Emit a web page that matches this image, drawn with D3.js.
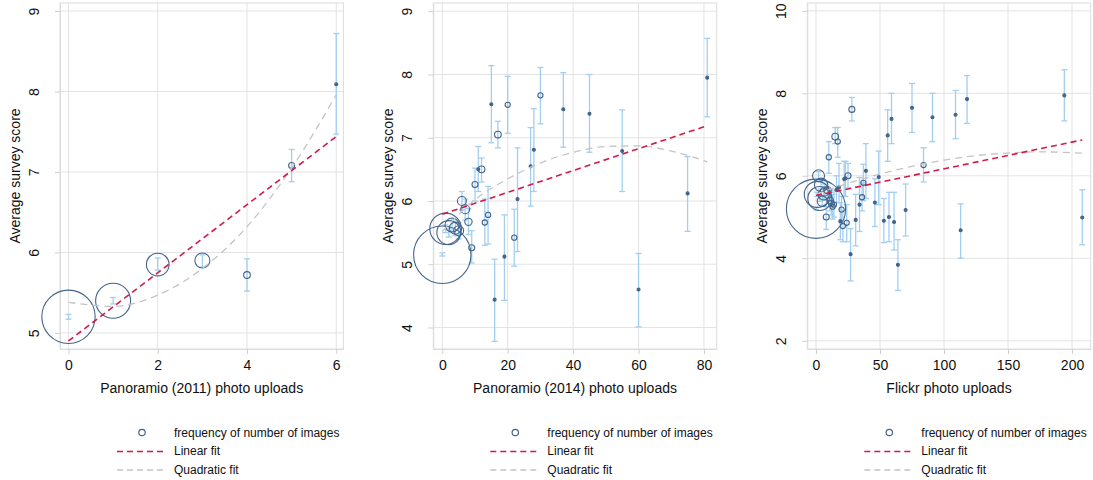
<!DOCTYPE html>
<html>
<head>
<meta charset="utf-8">
<script src="https://cdn.jsdelivr.net/npm/d3@7"></script>
<style>
  body { margin: 0; background: #fff; }
  text { font-family: "Liberation Sans", Arial, Helvetica, sans-serif; fill: #111; }
</style>
</head>
<body>
<script>
// rows: [uploads, mean score, ci low, ci high, frequency]
var panoramio2011 = [
  [0, 5.20, 5.17, 5.23, 316],
  [1, 5.40, 5.36, 5.44, 136],
  [2, 5.85, 5.78, 5.93, 57],
  [3, 5.90, 5.82, 5.97, 25],
  [4, 5.72, 5.52, 5.92, 5],
  [5, 7.08, 6.88, 7.28, 4],
  [6, 8.09, 7.47, 8.72, 1]
];
var panoramio2014 = [
  [0, 5.15, 5.13, 5.18, 366],
  [1, 5.56, 5.50, 5.62, 110],
  [2, 5.50, 5.43, 5.57, 64],
  [3, 5.62, 5.52, 5.72, 22],
  [4, 5.57, 5.45, 5.68, 16],
  [5, 5.53, 5.40, 5.66, 11],
  [6, 6.00, 5.86, 6.15, 9],
  [7, 5.87, 5.70, 6.03, 9],
  [8, 5.67, 5.47, 5.88, 6],
  [9, 5.26, 5.02, 5.53, 4],
  [10, 6.26, 6.00, 6.52, 4],
  [11, 6.50, 6.15, 6.86, 1],
  [12, 6.50, 6.30, 6.68, 5],
  [13, 5.66, 5.30, 6.03, 3],
  [14, 5.78, 5.32, 6.23, 3],
  [15, 7.53, 6.92, 8.14, 1],
  [16, 4.44, 3.78, 5.08, 1],
  [17, 7.05, 6.84, 7.26, 5],
  [19, 5.12, 4.43, 5.78, 1],
  [20, 7.52, 7.07, 7.97, 3],
  [22, 5.42, 4.97, 5.87, 3],
  [23, 6.03, 5.20, 6.84, 1],
  [27, 6.55, 5.92, 7.16, 1],
  [28, 6.81, 6.15, 7.46, 1],
  [30, 7.67, 7.22, 8.11, 3],
  [37, 7.45, 6.85, 8.03, 1],
  [45, 7.38, 6.77, 8.00, 1],
  [55, 6.79, 6.15, 7.44, 1],
  [60, 4.60, 4.01, 5.17, 1],
  [75, 6.12, 5.52, 6.70, 1],
  [81, 7.95, 7.33, 8.57, 1]
];
var flickr = [
  [0, 5.20, 5.17, 5.23, 390],
  [1, 5.55, 5.50, 5.60, 75],
  [2, 6.00, 5.90, 6.10, 16],
  [3, 5.45, 5.38, 5.52, 64],
  [4, 5.78, 5.68, 5.88, 20],
  [5, 5.38, 5.28, 5.50, 12],
  [6, 5.55, 5.40, 5.70, 14],
  [7, 5.62, 5.45, 5.80, 9],
  [8, 5.00, 4.70, 5.25, 4],
  [9, 5.65, 5.45, 5.85, 6],
  [10, 6.45, 6.06, 6.83, 3],
  [11, 5.40, 5.15, 5.65, 5],
  [12, 5.33, 5.05, 5.60, 4],
  [13, 5.25, 4.95, 5.55, 3],
  [14, 5.30, 5.00, 5.65, 3],
  [15, 6.95, 6.78, 7.17, 5],
  [16, 5.66, 5.35, 6.00, 1],
  [17, 6.83, 6.45, 7.17, 3],
  [18, 5.72, 5.35, 6.30, 1],
  [19, 4.90, 4.45, 5.35, 1],
  [20, 5.18, 4.85, 5.50, 3],
  [21, 4.78, 4.40, 5.15, 3],
  [22, 5.92, 5.50, 6.35, 1],
  [23, 5.94, 5.50, 6.35, 1],
  [24, 4.86, 4.40, 5.30, 3],
  [25, 6.00, 5.70, 6.30, 4],
  [27, 4.10, 3.45, 4.72, 1],
  [28, 7.61, 7.33, 7.90, 4],
  [31, 4.93, 4.30, 5.55, 1],
  [34, 5.30, 4.65, 5.96, 1],
  [36, 5.48, 5.15, 5.83, 3],
  [37, 5.83, 5.40, 6.28, 3],
  [39, 6.12, 5.45, 6.78, 1],
  [46, 5.35, 4.77, 5.93, 1],
  [49, 5.97, 5.30, 6.60, 1],
  [53, 4.91, 4.38, 5.45, 1],
  [56, 6.98, 6.35, 7.60, 1],
  [57, 5.00, 4.40, 5.60, 1],
  [59, 7.38, 6.78, 8.00, 1],
  [61, 4.88, 4.20, 5.60, 1],
  [64, 3.84, 3.22, 4.45, 1],
  [70, 5.17, 4.54, 5.80, 1],
  [75, 7.65, 7.05, 8.24, 1],
  [84, 6.26, 5.85, 6.68, 3],
  [91, 7.42, 6.83, 8.00, 1],
  [109, 7.48, 6.90, 8.07, 1],
  [113, 4.68, 4.00, 5.32, 1],
  [118, 7.86, 7.27, 8.43, 1],
  [194, 7.95, 7.33, 8.57, 1],
  [208, 4.99, 4.33, 5.66, 1]
];

// fitted lines
var linear2011 = [[0, 4.90], [6, 7.44]];
var quad2011 = [[0, 5.38], [1, 5.33], [2, 5.47], [3, 5.80], [4, 6.32], [5, 7.05], [6, 7.96]];
var linear2014 = [[0, 5.79], [81, 7.19]];
var quad2014 = [[0, 5.52], [10, 6.02], [20, 6.35], [30, 6.60], [40, 6.77], [50, 6.86], [60, 6.87], [70, 6.79], [81, 6.62]];
var linearFlickr = [[0, 5.52], [208, 6.87]];
var quadFlickr = [[0, 5.55], [25, 5.82], [50, 6.04], [75, 6.23], [100, 6.38], [125, 6.49], [150, 6.55], [175, 6.58], [208, 6.55]];

var xTicks2011 = [0, 2, 4, 6];
var xTicks2014 = [0, 20, 40, 60, 80];
var xTicksFlickr = [0, 50, 100, 150, 200];
var yTicks2011 = [5, 6, 7, 8, 9];
var yTicks2014 = [4, 5, 6, 7, 8, 9];
var yTicksFlickr = [2, 4, 6, 8, 10];

var legendLabels = ["frequency of number of images", "Linear fit", "Quadratic fit"];

var panels = [
  {left: 60, rows: panoramio2011, lin: linear2011, quad: quad2011, xd: [-0.19, 6.16], yd: [4.8, 9.1],
   xt: xTicks2011, yt: yTicks2011, title: "Panoramio (2011) photo uploads"},
  {left: 433.3, rows: panoramio2014, lin: linear2014, quad: quad2014, xd: [-2.75, 83.9], yd: [3.66, 9.13],
   xt: xTicks2014, yt: yTicks2014, title: "Panoramio (2014) photo uploads"},
  {left: 807.3, rows: flickr, lin: linearFlickr, quad: quadFlickr, xd: [-6.8, 214.6], yd: [1.8, 10.19],
   xt: xTicksFlickr, yt: yTicksFlickr, title: "Flickr photo uploads"}
];

var width = 1093, height = 480;
var plotTop = 3, plotBottom = 349, pw = 283.4;
var circleColor = "#43648a", barColor = "#a2cff0", linColor = "#d11a4a", quadColor = "#c4c4c4", gridColor = "#e3e3e3";

var svg = d3.select("body").append("svg")
    .attr("width", width)
    .attr("height", height);

panels.forEach(function(p) {
  var x = d3.scaleLinear().domain(p.xd).range([p.left, p.left + pw]);
  var y = d3.scaleLinear().domain(p.yd).range([plotBottom, plotTop]);
  var r = d3.scaleSqrt().domain([0, 400]).range([0, 30]);
  var g = svg.append("g");

  // grid
  g.selectAll(".gx").data(p.xt).enter().append("line")
      .attr("x1", function(d) { return x(d); }).attr("x2", function(d) { return x(d); })
      .attr("y1", plotTop).attr("y2", plotBottom)
      .attr("stroke", gridColor).attr("stroke-width", 1);
  g.selectAll(".gy").data(p.yt).enter().append("line")
      .attr("x1", p.left).attr("x2", p.left + pw)
      .attr("y1", function(d) { return y(d); }).attr("y2", function(d) { return y(d); })
      .attr("stroke", gridColor).attr("stroke-width", 1);
  g.append("rect")
      .attr("x", p.left).attr("y", plotTop).attr("width", pw).attr("height", plotBottom - plotTop)
      .attr("fill", "none").attr("stroke", "#dcdcdc");

  // axes
  var xa = g.append("g").attr("transform", "translate(0," + plotBottom + ")")
      .call(d3.axisBottom(x).tickValues(p.xt).tickFormat(d3.format("d"))
        .tickSize(5).tickSizeOuter(0).tickPadding(6));
  var ya = g.append("g").attr("transform", "translate(" + p.left + ",0)")
      .call(d3.axisLeft(y).tickValues(p.yt).tickFormat(d3.format("d"))
        .tickSize(5).tickSizeOuter(0));
  [xa, ya].forEach(function(a) {
    a.select(".domain").attr("stroke", "#dcdcdc");
    a.selectAll(".tick line").attr("stroke", "#cfcfcf");
    a.selectAll("text").style("font-size", "14px").attr("fill", "#111")
      .style("font-family", "Liberation Sans, Arial, sans-serif");
  });
  ya.selectAll(".tick text")
      .attr("x", null).attr("dy", null)
      .attr("text-anchor", "middle")
      .attr("transform", "translate(-21,0) rotate(-90)");

  g.append("text")
      .attr("x", p.left + pw / 2).attr("y", 393)
      .attr("text-anchor", "middle").style("font-size", "14px")
      .text(p.title);
  g.append("text")
      .attr("transform", "translate(" + (p.left - 40) + "," + ((plotTop + plotBottom) / 2) + ") rotate(-90)")
      .attr("text-anchor", "middle").style("font-size", "14px")
      .text("Average survey score");

  // error bars
  var eb = g.selectAll(".eb").data(p.rows).enter().append("g")
      .attr("stroke", barColor).attr("stroke-width", 1.3);
  eb.append("line")
      .attr("x1", function(d) { return x(d[0]); }).attr("x2", function(d) { return x(d[0]); })
      .attr("y1", function(d) { return y(d[2]); }).attr("y2", function(d) { return y(d[3]); });
  [2, 3].forEach(function(k) {
    eb.append("line")
        .attr("x1", function(d) { return x(d[0]) - 3; }).attr("x2", function(d) { return x(d[0]) + 3; })
        .attr("y1", function(d) { return y(d[k]); }).attr("y2", function(d) { return y(d[k]); });
  });

  // frequency-weighted markers
  g.selectAll(".pt").data(p.rows).enter().append("circle")
      .attr("cx", function(d) { return x(d[0]); })
      .attr("cy", function(d) { return y(d[1]); })
      .attr("r", function(d) { return r(d[4]); })
      .attr("fill", function(d) { return d[4] < 2 ? circleColor : "none"; })
      .attr("stroke", circleColor).attr("stroke-width", 1.1);

  var line = d3.line().x(function(d) { return x(d[0]); }).y(function(d) { return y(d[1]); });
  g.append("path").datum(p.quad)
      .attr("d", line.curve(d3.curveMonotoneX))
      .attr("fill", "none").attr("stroke", quadColor).attr("stroke-width", 1.3)
      .attr("stroke-dasharray", "7,5");
  g.append("path").datum(p.lin)
      .attr("d", d3.line().x(function(d) { return x(d[0]); }).y(function(d) { return y(d[1]); }))
      .attr("fill", "none").attr("stroke", linColor).attr("stroke-width", 1.6)
      .attr("stroke-dasharray", "6,4");

  // legend
  var lg = g.append("g").attr("transform", "translate(" + p.left + ",0)");
  lg.append("circle").attr("cx", 82).attr("cy", 432.5).attr("r", 3.2)
      .attr("fill", "none").attr("stroke", circleColor).attr("stroke-width", 1.2);
  lg.append("line").attr("x1", 57).attr("x2", 103).attr("y1", 451.5).attr("y2", 451.5)
      .attr("stroke", linColor).attr("stroke-width", 1.6).attr("stroke-dasharray", "6,4");
  lg.append("line").attr("x1", 57).attr("x2", 103).attr("y1", 470).attr("y2", 470)
      .attr("stroke", quadColor).attr("stroke-width", 1.3).attr("stroke-dasharray", "6,4");
  lg.selectAll(".lt").data(legendLabels).enter().append("text")
      .attr("x", 114)
      .attr("y", function(d, i) { return 436.5 + i * 18.5; })
      .style("font-size", "12px")
      .text(function(d) { return d; });
});
</script>
</body>
</html>
